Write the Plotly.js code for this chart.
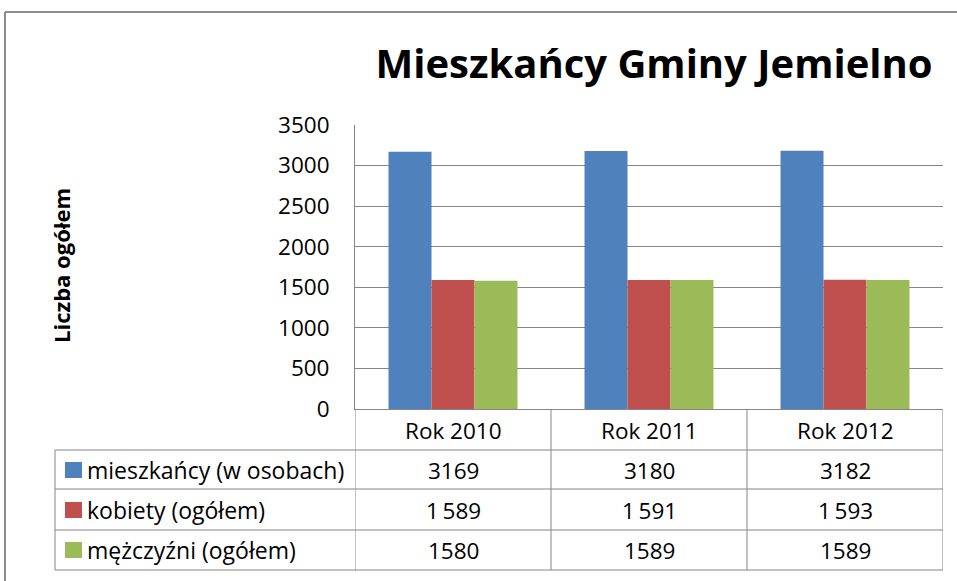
<!DOCTYPE html>
<html>
<head>
<meta charset="utf-8">
<script src="https://cdn.plot.ly/plotly-3.0.1.min.js"></script>
<style>html,body{margin:0;padding:0;background:#fff;}#chart{width:957px;height:581px;}</style>
</head>
<body>
<div id="chart"></div>
<script>
// ---- data ----
const categories = ["Rok 2010", "Rok 2011", "Rok 2012"];
const seriesNames = ["mieszkańcy (w osobach)", "kobiety (ogółem)", "mężczyźni (ogółem)"];
const mieszkancy = [3169, 3180, 3182];
const kobiety = [1589, 1591, 1593];
const mezczyzni = [1580, 1589, 1589];
const yTicks = [0, 500, 1000, 1500, 2000, 2500, 3000, 3500];
const thousandsSep = [false, true, false]; // how each table row prints its numbers
const colors = ["#4F81BD", "#C0504D", "#9BBB59"];

const allSeries = [mieszkancy, kobiety, mezczyzni];

// ---- layout geometry (pixels) ----
const W = 957, H = 581;
const L = 355, R = 943, T = 125, B = 409;
const pw = R - L, ph = B - T;
const px = x => (x - L) / pw;
const py = y => (B - y) / ph;
const FONT = "Open Sans, Liberation Sans, sans-serif";
const gridCol = "#868686";
const TXT = 22.5;

function fmt(v, sep) {
  const s = String(v);
  return sep ? s.replace(/\B(?=(\d{3})+(?!\d))/g, "\u2009") : s;
}

const traces = allSeries.map((vals, i) => ({
  type: "bar",
  name: seriesNames[i],
  x: categories,
  y: vals,
  marker: { color: colors[i], line: { width: 0 } },
  hoverinfo: "skip"
}));

const rowCenters = [470, 510, 550];
const annotations = [];
const shapes = [];

// y-axis title
annotations.push({
  xref: "paper", yref: "paper", x: px(61), y: py(266),
  text: "<b>Liczba ogółem</b>", textangle: -90, showarrow: false,
  font: { family: FONT, size: 22, color: "#000" }, xanchor: "center", yanchor: "middle"
});

// table rows: legend keys, labels, values
allSeries.forEach((vals, i) => {
  const yc = rowCenters[i];
  shapes.push({
    type: "rect", xref: "paper", yref: "paper",
    x0: px(65), x1: px(82), y0: py(yc - 8), y1: py(yc + 8),
    fillcolor: colors[i], line: { width: 0 }
  });
  annotations.push({
    xref: "paper", yref: "paper", x: px(85), y: py(yc),
    text: seriesNames[i], showarrow: false, xanchor: "left", yanchor: "middle",
    font: { family: FONT, size: 23, color: "#000" }
  });
  vals.forEach((v, j) => {
    annotations.push({
      xref: "x", yref: "paper", x: categories[j], y: py(yc),
      text: fmt(v, thousandsSep[i]), showarrow: false, xanchor: "center", yanchor: "middle",
      font: { family: FONT, size: TXT, color: "#000" }
    });
  });
});

// category header labels
categories.forEach(c => {
  annotations.push({
    xref: "x", yref: "paper", x: c, y: py(430),
    text: c, showarrow: false, xanchor: "center", yanchor: "middle",
    font: { family: FONT, size: TXT, color: "#000" }
  });
});

// table lines
const lineStyle = { color: gridCol, width: 1 };
[450, 489, 530, 570].forEach(y => {
  shapes.push({ type: "line", xref: "paper", yref: "paper", x0: px(55), x1: px(R), y0: py(y), y1: py(y), line: lineStyle });
});
shapes.push({ type: "line", xref: "paper", yref: "paper", x0: px(55), x1: px(55), y0: py(450), y1: py(570), line: lineStyle });
[-0.5, 0.5, 1.5, 2.5].forEach(xv => {
  shapes.push({ type: "line", xref: "x", yref: "paper", x0: xv, x1: xv, y0: py(B), y1: py(570), line: lineStyle });
});

// outer chart border
shapes.push({ type: "line", xref: "paper", yref: "paper", x0: px(5), x1: px(5), y0: py(12), y1: py(600), line: { color: "#8c8c8c", width: 2 } });
shapes.push({ type: "line", xref: "paper", yref: "paper", x0: px(5), x1: px(970), y0: py(12), y1: py(12), line: { color: "#8c8c8c", width: 2 } });

const layout = {
  width: W, height: H,
  margin: { l: L, r: W - R, t: T, b: H - B, pad: 0 },
  paper_bgcolor: "#fff", plot_bgcolor: "#fff",
  showlegend: false,
  barmode: "group", bargap: 0.342, bargroupgap: 0,
  title: {
    text: "<b>Mieszkańcy Gminy Jemielno</b>",
    font: { family: FONT, size: 40, color: "#000" },
    xref: "container", x: 654 / W, xanchor: "center",
    yref: "container", y: 1 - 64 / H, yanchor: "middle"
  },
  xaxis: {
    type: "category", range: [-0.5, 2.5],
    showticklabels: false, ticks: "", showgrid: false,
    showline: true, linecolor: gridCol, linewidth: 1, zeroline: false
  },
  yaxis: {
    range: [0, 3500], tickvals: yTicks, ticktext: yTicks.map(String),
    ticks: "", ticklabelstandoff: 20,
    showgrid: true, gridcolor: gridCol, gridwidth: 1,
    showline: true, linecolor: gridCol, linewidth: 1, zeroline: false,
    tickfont: { family: FONT, size: TXT, color: "#000" }
  },
  annotations: annotations,
  shapes: shapes,
  font: { family: FONT }
};

Plotly.newPlot("chart", traces, layout, { staticPlot: true, displayModeBar: false });
</script>
</body>
</html>
